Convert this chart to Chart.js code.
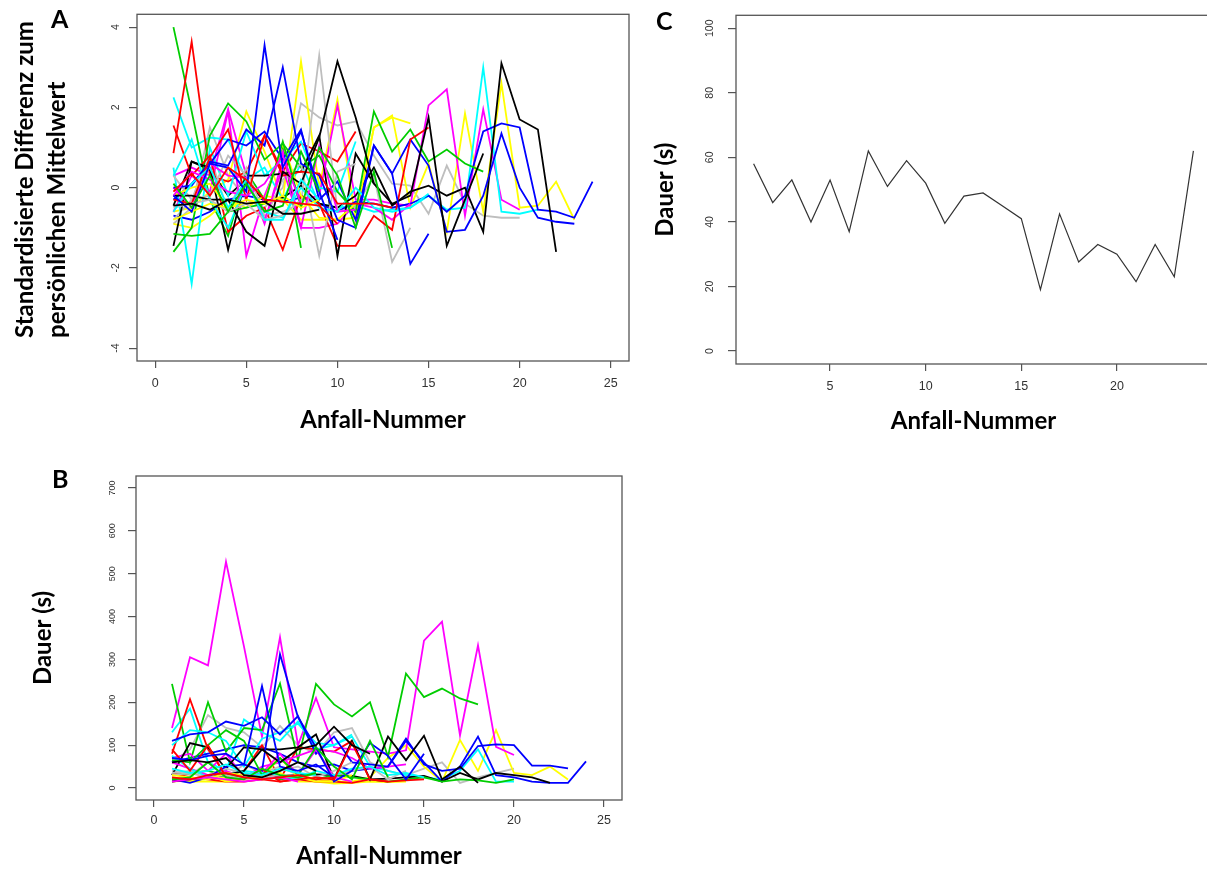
<!DOCTYPE html>
<html>
<head>
<meta charset="utf-8">
<script src="https://cdn.jsdelivr.net/npm/chart.js@4.4.1/dist/chart.umd.min.js"></script>
<style>
  html, body { margin: 0; padding: 0; background: #fff; width: 1207px; height: 870px; overflow: hidden; }
  canvas { position: absolute; }
  .letter { position: absolute; font: bold 25px Lato, sans-serif; color: #000; }
  .ytitle { position: absolute; font: bold 24px Lato, sans-serif; line-height: 32px; white-space: nowrap;
            transform-origin: 0 0; transform: rotate(-90deg); color: #000; }
</style>
</head>
<body>
<canvas id="chartA" width="640" height="440" style="left:0;top:0"></canvas>
<canvas id="chartB" width="640" height="420" style="left:0;top:460px"></canvas>
<canvas id="chartC" width="580" height="440" style="left:640px;top:0"></canvas>
<div class="letter" style="left:51px;top:3px">A</div>
<div class="letter" style="left:52px;top:463px">B</div>
<div class="letter" style="left:656px;top:5px">C</div>
<div class="ytitle" style="left:8px;top:338px">Standardisierte Differenz zum<br>persönlichen Mittelwert</div>
<script>
// attack numbers and axis ticks
const anfall = [1, 2, 3, 4, 5, 6, 7, 8, 9, 10, 11, 12, 13, 14, 15, 16, 17, 18, 19, 20, 21, 22, 23, 24];
const xTicksAB = [0, 5, 10, 15, 20, 25];
const xTicksC = [5, 10, 15, 20];
const yTicksA = [-4, -2, 0, 2, 4];
const yTicksB = [0, 100, 200, 300, 400, 500, 600, 700];
const yTicksC = [0, 20, 40, 60, 80, 100];

// R default palette (black, red, green3, blue, cyan, magenta, yellow, gray)
const rPalette = ['#000000', '#FF0000', '#00CD00', '#0000FF', '#00FFFF', '#FF00FF', '#FFFF00', '#BEBEBE'];

// A: standardised difference to personal mean, one row per patient
const zScores = [
  [-0.45, -0.4, -0.55, -0.3, -0.4, -0.35, -0.65, -0.65, -0.55],
  [-0.1, 0.35, -0.2, 0.5, 0.2, -0.3, -0.35, -0.4, -0.45, -0.9],
  [0.1, -0.5, 0.3, -0.6, 0.1, -0.6, -0.45, 0.9, -0.1],
  [-0.2, -0.6, 0.6, 0.5, -0.1, 3.55, 0.5, 1.4, -0.1, -1.3],
  [-0.6, 0.1, 0.5, -0.5, 0.2, -0.8, -0.8, 0.2, -0.3],
  [-0.2, 0.4, 0.2, -0.1, -0.2, 0.1, 0.8, -0.4],
  [-0.8, -0.6, -0.4, -0.5, -0.3, -0.4, -0.2, -0.5, -0.3],
  [-0.5, -0.4, -0.3, -0.6, -0.4, -0.8, -0.7, -0.3],

  [-0.2, -0.2, -0.3, -0.3, -1.1, -1.45, 0.4, 0.1, 1.25, 3.15, 1.75, 0.1],
  [-0.3, -0.4, 0.75, 1.45, -0.3, 1.3, 0.3, 0.4, 0.35, -0.4, -0.4, -0.4, -0.5],
  [-1.15, -1.2, -1.15, -0.6, -0.5, -0.4, 1.15, -0.5, 1.0, 0.3, -1.0, 0.4, -1.5],
  [0.0, 0.05, 0.65, 0.55, 1.45, 1.05, 3.0, 0.6, 0.3, -0.8, -1.0, 1.05, 0.35, -1.9, -1.15],
  [0.3, 1.2, -0.3, -1.0, 0.1, -0.6, -0.75, 0.0, -0.5, -0.6, 0.0, -0.5, -0.6, -0.5, -0.15],
  [0.0, -0.5, 0.6, 0.3, 0.25, -0.8, 0.5, -1.0, 1.05, -0.6, -0.55],
  [-0.2, 0.0, 0.1, -0.5, -0.4, -0.35, 1.1, -0.2, -0.75, -0.8, -0.4],
  [0.3, -0.3, -0.2, 0.8, 0.3, -0.8, 0.2, 0.6, -1.7, 0.4, 0.6],

  [-1.45, 0.65, 0.5, -1.55, 0.3, 0.3, 0.35, 0.4, 1.3, -1.7, 0.85, 0.1, -0.4, -0.2, 1.75, -1.45, -0.3, 0.85],
  [1.55, 0.3, 0.8, -1.1, -0.7, -0.5, -1.55, -0.2, -0.4, -1.45, -1.45, -0.7, -1.05, 1.2, 1.5],
  [-1.6, -1.0, 1.3, 2.1, 1.65, 0.7, 1.1, 0.5, 0.8, -0.1, -0.6, 1.9, 0.9, 1.45, 0.65, 0.95, 0.6, 0.4],
  [-0.3, 0.1, 0.6, 1.2, 1.05, 1.4, 0.7, 1.45, -0.3, 0.15, -0.8, 1.05, 0.35, 1.2, 0.55, -1.1, -1.05, -0.2, 1.35, 0.0, -0.75, -0.85, -0.9],
  [0.5, -2.4, 1.0, -0.2, 1.4, 0.3, 0.7, 1.15, 0.0, -0.1, 1.15],
  [-0.6, 0.3, -0.1, 1.9, -1.7, -0.2, 0.9, -1.0, -1.0, -0.9, -0.4, -0.5, -0.8, -0.4],
  [-0.9, -1.0, -0.7, -0.3, -0.5, -0.2, -0.3, -0.8, -0.8, -0.8, -0.75, 1.5, 1.75, 1.6],
  [-0.8, -0.3, 0.8, -0.6, 0.5, -0.7, -0.6, -0.4, 3.3, -0.6, -0.5, 0.3, -1.85, -1.0],

  [-0.45, 0.65, 0.45, -0.2, 0.2, -0.35, -0.25, 0.05, -0.4, -0.5, -0.2, 0.5, -0.45, -0.1, 0.05, -0.2, 0.0, -1.1, 3.1, 1.7, 1.45, -1.6],
  [0.86, 3.64, 0.3, 0.15, 0.4, 1.3, 0.4, 1.1, 0.9, 0.65, 1.4],
  [4.0, 1.9, -0.3, -1.2, 0.4, -0.3, 1.05, -1.5],
  [-0.7, -0.8, -0.6, -0.3, -0.2, -0.3, -0.35, -0.25, -0.4, -0.6, -0.35, -0.4, -0.5, -0.4, -0.2, -0.6, -0.2, 1.4, 1.6, 1.5, -0.55, -0.6, -0.75, 0.15],
  [2.25, 1.0, 1.25, 1.2, 0.2, 0.5, -0.3, 0.6, -0.4, -0.5, -0.45, -0.6, -0.55, -0.5, -0.2, -0.55, -0.5, 3.0, -0.6, -0.65, -0.55],
  [0.3, 0.5, 0.3, 1.95, 0.3, -0.9, 0.7, -0.3, -0.2, 2.05, -0.3, -0.3, -0.4, -0.45, 2.05, 2.45, -0.7, 1.95, -0.3, -0.55],
  [-0.6, -0.5, -0.1, 0.2, 1.9, 0.9, -0.3, 3.15, 0.0, 2.2, -0.8, 1.5, 1.8, -0.5, 0.6, -1.1, 1.85, -0.6, 2.6, -0.5, -0.45, 0.15, -0.8],
  [-0.9, -0.5, 1.5, 0.3, -0.3, -0.5, 0.0, 2.1, 1.75, 1.55, 1.65, 0.8, 0.1, 0.05, -0.65, 0.55, -0.4, -0.7, -0.75, -0.75]
];

// B: seizure duration in seconds, one row per patient
const dauer = [
  [60, 65, 60, 70, 30, 25, 40, 60, 40],
  [25, 20, 30, 35, 25, 20, 25, 30, 20, 25],
  [20, 25, 60, 25, 20, 45, 30, 25, 35],
  [70, 65, 75, 80, 55, 238, 50, 40, 55, 25],
  [45, 35, 40, 55, 35, 30, 45, 35, 30],
  [15, 20, 25, 20, 15, 20, 25, 15],
  [30, 25, 20, 35, 30, 20, 25, 30, 20],
  [30, 35, 25, 30, 20, 25, 30, 25],

  [15, 20, 25, 30, 40, 90, 60, 90, 100, 143, 100, 80],
  [90, 40, 100, 25, 20, 45, 15, 20, 25, 20, 105, 20, 15],
  [65, 60, 100, 135, 110, 30, 70, 30, 95, 50, 20, 110, 25],
  [20, 12, 25, 50, 55, 40, 312, 165, 95, 15, 40, 105, 75, 20, 80],
  [75, 45, 25, 30, 40, 35, 30, 20, 40, 30, 45, 50, 30, 35, 25],
  [60, 45, 30, 40, 25, 35, 80, 30, 90, 25, 15],
  [25, 20, 30, 15, 20, 25, 70, 25, 15, 15, 30],
  [35, 40, 30, 45, 35, 30, 40, 50, 25, 40, 60],

  [30, 105, 95, 45, 95, 90, 90, 95, 125, 20, 110, 20, 120, 65, 122, 20, 50, 12],
  [35, 25, 20, 15, 15, 20, 15, 20, 15, 15, 12, 20, 15, 18, 20],
  [30, 35, 40, 30, 25, 30, 20, 25, 20, 30, 25, 20, 15, 20, 25, 15, 20, 18, 12, 20],
  [110, 125, 130, 155, 145, 165, 125, 168, 80, 120, 60, 55, 50, 115, 55, 40, 45, 98, 102, 100, 52, 52, 46],
  [100, 135, 130, 110, 50, 115, 130, 150, 105, 100, 125],
  [70, 80, 40, 80, 25, 50, 60, 75, 90, 85, 70, 45, 50, 55],
  [20, 15, 15, 15, 25, 40, 35, 15, 15, 10, 12, 15, 14, 15],
  [40, 30, 60, 25, 55, 35, 50, 30, 90, 30, 40, 50, 20, 40],

  [20, 22, 25, 30, 28, 25, 28, 30, 32, 30, 28, 20, 22, 25, 28, 15, 35, 20, 35, 30, 25, 12],
  [80, 207, 90, 30, 40, 100, 20, 95, 90, 85, 110],
  [243, 60, 200, 85, 140, 135, 244, 65, 243, 195, 167, 200, 73, 267, 212, 232, 209, 195],
  [60, 70, 80, 90, 100, 95, 80, 60, 50, 55, 40, 45, 50, 110, 60, 15, 50, 120, 30, 25, 15, 12, 12, 62],
  [130, 185, 60, 40, 160, 130, 110, 155, 90, 100, 120, 50, 40, 30, 25, 20, 40, 90, 15, 15],
  [140, 305, 286, 528, 330, 120, 352, 100, 210, 95, 90, 85, 80, 88, 344, 388, 123, 333, 96, 77],
  [15, 18, 20, 25, 30, 35, 70, 30, 20, 15, 15, 25, 70, 100, 50, 15, 112, 40, 135, 35, 30, 50, 20],
  [60, 90, 170, 140, 130, 95, 145, 100, 80, 130, 140, 60, 40, 30, 45, 60, 12, 25, 35, 45]
];

// C: duration of one patient's seizures in seconds
const dauerC = [58, 46, 53, 40, 53, 37, 62, 51, 59, 52, 39.6, 48, 49, 45, 41, 19, 42.5, 27.6, 33, 30, 21.5, 33, 23, 62];

const tickFont = { family: 'Liberation Sans', size: 12.5 };
const titleFont = { family: 'Lato', weight: 'bold', size: 24 };

// R-style frame round the plot region
const boxPlugin = {
  id: 'box',
  afterDraw(chart) {
    const { ctx, chartArea: a } = chart;
    ctx.save();
    ctx.strokeStyle = '#555';
    ctx.lineWidth = 1.3;
    ctx.strokeRect(a.left, a.top, a.right - a.left, a.bottom - a.top);
    ctx.restore();
  }
};

function toLines(rows, width) {
  return rows.map((vals, i) => ({
    data: vals.map((v, j) => ({ x: anfall[j], y: v })),
    borderColor: rPalette[i % rPalette.length],
    borderWidth: width
  }));
}

function makeChart(id, datasets, o) {
  return new Chart(document.getElementById(id), {
    type: 'line',
    data: { datasets },
    options: {
      responsive: false,
      animation: false,
      layout: { padding: o.pad },
      plugins: { legend: { display: false }, tooltip: { enabled: false } },
      elements: { point: { radius: 0 }, line: { tension: 0 } },
      scales: {
        x: {
          type: 'linear', min: o.xMin, max: o.xMax,
          afterBuildTicks: s => { s.ticks = o.xTicks.map(v => ({ value: v })); },
          afterFit: s => { s.height = o.xHeight; },
          border: { display: false },
          grid: { drawOnChartArea: false, tickLength: 7, color: '#555', lineWidth: 1.2 },
          ticks: { font: tickFont, color: '#333', padding: o.xTickPad, autoSkip: false, maxRotation: 0 },
          title: { display: true, text: 'Anfall-Nummer', font: titleFont, color: '#000', padding: { top: 0, bottom: o.xTitlePad } }
        },
        y: {
          type: 'linear', min: o.yMin, max: o.yMax,
          afterBuildTicks: s => { s.ticks = o.yTicks.map(v => ({ value: v })); },
          afterFit: s => { s.width = o.yWidth; },
          border: { display: false },
          grid: { drawOnChartArea: false, tickLength: 8, color: '#555', lineWidth: 1.2 },
          ticks: { font: { family: 'Liberation Sans', size: o.yTickSize }, color: '#333', padding: o.yTickPad,
                   minRotation: 90, maxRotation: 90, crossAlign: 'center', autoSkip: false },
          title: { display: !!o.yTitle, text: o.yTitle, font: titleFont, color: '#000', padding: { top: o.yTitlePad || 0, bottom: 0 } }
        }
      }
    },
    plugins: [boxPlugin]
  });
}

makeChart('chartA', toLines(zScores, 1.8), {
  pad: { top: 10, right: 11, left: 0, bottom: 0 },
  xMin: -1, xMax: 26, xTicks: xTicksAB, xHeight: 79, xTickPad: 8, xTitlePad: 5,
  yMin: -4.32, yMax: 4.32, yTicks: yTicksA, yWidth: 137, yTickPad: 8, yTickSize: 10.5
});

makeChart('chartB', toLines(dauer, 1.8), {
  pad: { top: 16, right: 18, left: 0, bottom: 0 },
  xMin: -1, xMax: 26, xTicks: xTicksAB, xHeight: 80, xTickPad: 6, xTitlePad: 9,
  yMin: -28, yMax: 728, yTicks: yTicksB, yWidth: 136, yTickPad: 8, yTickSize: 9,
  yTitle: 'Dauer (s)', yTitlePad: 29
});

makeChart('chartC', [{ data: dauerC.map((v, j) => ({ x: anfall[j], y: v })), borderColor: '#333', borderWidth: 1.2 }], {
  pad: { top: 9, right: 9, left: 0, bottom: 0 },
  xMin: 0.08, xMax: 24.92, xTicks: xTicksC, xHeight: 76, xTickPad: 8, xTitlePad: 4,
  yMin: -4, yMax: 104, yTicks: yTicksC, yWidth: 96, yTickPad: 9, yTickSize: 10.5,
  yTitle: 'Dauer (s)', yTitlePad: 11
});
</script>
</body>
</html>
